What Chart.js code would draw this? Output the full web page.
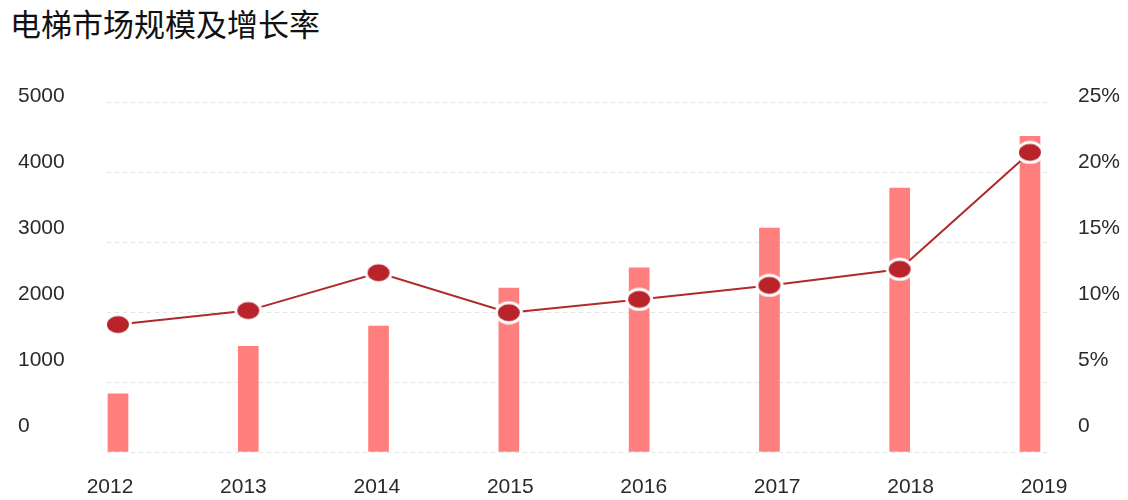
<!DOCTYPE html>
<html>
<head>
<meta charset="utf-8">
<script src="https://cdn.jsdelivr.net/npm/chart.js@4"></script>
<style>
  html, body { margin: 0; padding: 0; background: #fff; }
  #wrap { position: relative; width: 1128px; height: 500px; }
  #title { position: absolute; left: 10px; top: 7px; font-family: "Noto Sans CJK SC", sans-serif; font-size: 31px; line-height: 31px; color: #111; white-space: nowrap; }
  canvas { position: absolute; left: 0; top: 0; }
</style>
</head>
<body>
<div id="wrap">
  <div id="title">电梯市场规模及增长率</div>
  <canvas id="c" width="1128" height="500"></canvas>
</div>
<script>
// ---- data ----
const CATEGORIES = ['2012', '2013', '2014', '2015', '2016', '2017', '2018', '2019'];
const MARKET_SIZE = [830, 1510, 1800, 2340, 2630, 3200, 3770, 4510];
const GROWTH_RATE = [9.1, 10.1, 12.8, 9.95, 10.9, 11.9, 13.05, 21.4];
const LEFT_TICKS = [0, 1000, 2000, 3000, 4000, 5000];
const RIGHT_TICKS = [0, 5, 10, 15, 20, 25];

// ---- styling ----
const FONT = { family: '"Liberation Sans", Arial, sans-serif', size: 21 };
const TEXT_COLOR = '#2a2a2a';

function makePointImage() {
  const c = document.createElement('canvas');
  c.width = 30; c.height = 24;
  const g = c.getContext('2d');
  g.fillStyle = '#ffffff';
  g.beginPath(); g.ellipse(15, 12, 14, 11.5, 0, 0, Math.PI * 2); g.fill();
  g.fillStyle = '#B8242A';
  g.beginPath(); g.ellipse(15, 12, 11, 8.5, 0, 0, Math.PI * 2); g.fill();
  return c;
}

function fixed(prop, val) {
  return function (scale) {
    scale[prop] = val;
    scale.paddingTop = 0; scale.paddingBottom = 0;
    scale.paddingLeft = 0; scale.paddingRight = 0;
  };
}
function setTicks(list) {
  return function (scale) { scale.ticks = list.map(v => ({ value: v })); };
}

const barData = MARKET_SIZE.map((v, i) => ({ x: i, y: v }));
const lineData = GROWTH_RATE.map((v, i) => ({ x: i, y: v }));

new Chart(document.getElementById('c'), {
  type: 'bar',
  data: {
    datasets: [
      {
        type: 'line',
        label: '增长率',
        data: lineData,
        xAxisID: 'x',
        yAxisID: 'y2',
        borderColor: '#B0292B',
        borderWidth: 2,
        tension: 0,
        pointStyle: makePointImage(),
        pointRadius: 12,
        pointHoverRadius: 12,
        order: 0
      },
      {
        type: 'bar',
        label: '市场规模',
        data: barData,
        xAxisID: 'x',
        yAxisID: 'y',
        backgroundColor: '#FF7E7E',
        barThickness: 20,
        order: 1
      }
    ]
  },
  options: {
    responsive: false,
    animation: false,
    events: [],
    layout: { padding: { left: 18, right: 0, top: 102, bottom: 0 } },
    plugins: { legend: { display: false }, tooltip: { enabled: false }, title: { display: false } },
    scales: {
      x: {
        type: 'linear', display: false, offset: false, bounds: 'data', min: -0.0844, max: 7.1305,
        grid: { offset: false }
      },
      xL: {
        type: 'linear', position: 'bottom', offset: false, bounds: 'data', min: -0.0225, max: 7.0225,
        afterBuildTicks: setTicks(CATEGORIES.map((c, i) => i)),
        afterFit: fixed('height', 48),
        grid: { display: false, drawTicks: false, offset: false },
        border: { display: false },
        ticks: {
          autoSkip: false, maxRotation: 0, padding: 23,
          color: TEXT_COLOR, font: FONT,
          callback: v => CATEGORIES[v]
        }
      },
      y: {
        type: 'linear', position: 'left', bounds: 'data', min: 0, max: 5000,
        afterBuildTicks: setTicks(LEFT_TICKS),
        afterFit: fixed('width', 0),
        ticks: { display: false },
        grid: { display: true, color: '#e4e4e4', lineWidth: 1, drawTicks: false },
        border: { display: false, dash: [4, 4] }
      },
      yL: {
        type: 'linear', position: 'left', bounds: 'data', min: -393.94, max: 4909.09,
        afterBuildTicks: setTicks(LEFT_TICKS),
        afterFit: fixed('width', 89),
        grid: { display: false, drawTicks: false },
        border: { display: false },
        ticks: { crossAlign: 'far', padding: 0, color: TEXT_COLOR, font: FONT, callback: v => String(v) }
      },
      y2: {
        type: 'linear', position: 'right', display: false, bounds: 'data', min: 0, max: 25
      },
      y2L: {
        type: 'linear', position: 'right', bounds: 'data', min: -1.9697, max: 24.5455,
        afterBuildTicks: setTicks(RIGHT_TICKS),
        afterFit: fixed('width', 81),
        grid: { display: false, drawTicks: false },
        border: { display: false },
        ticks: { crossAlign: 'near', padding: 31, color: TEXT_COLOR, font: FONT, callback: v => (v === 0 ? '0' : v + '%') }
      }
    }
  }
});
</script>
</body>
</html>
